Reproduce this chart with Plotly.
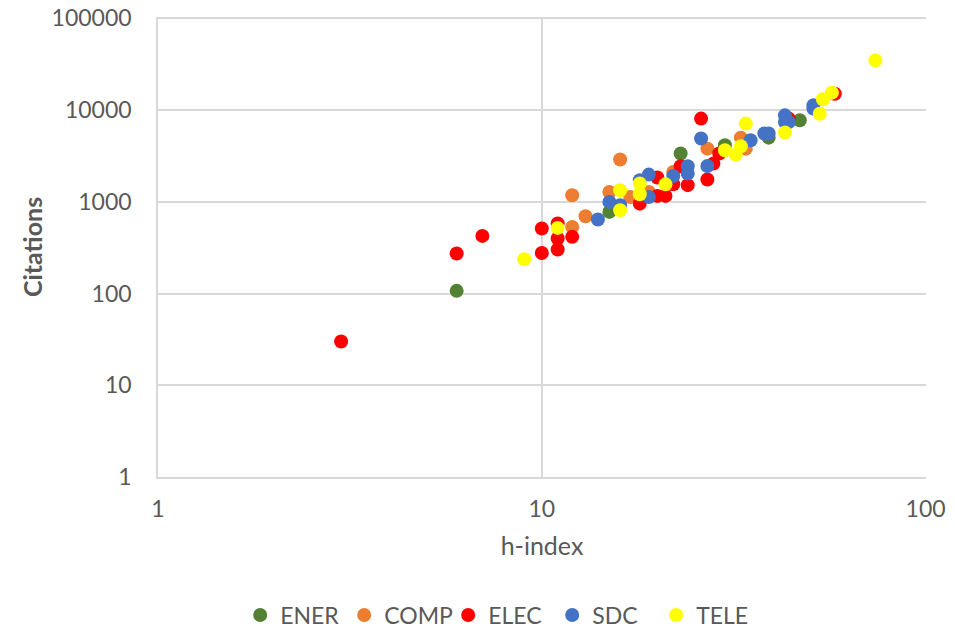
import plotly.graph_objects as go

# h-index, citations per field
ener_h = [6, 15, 23, 30, 39, 47]
ener_c = [107, 777, 3360, 4140, 5010, 7740]

comp_h = [12, 12, 13, 15, 16, 17, 19, 22, 27, 33, 34]
comp_c = [1180, 533, 697, 1280, 2890, 1130, 1280, 2120, 3800, 5010, 3800]

elec_h = [3, 6, 7, 10, 10, 11, 11, 11, 12, 18, 20, 20, 21, 22, 23, 24, 26, 27, 28, 29, 44, 58]
elec_c = [30, 273, 425, 277, 512, 302, 398, 580, 415, 955, 1840, 1160, 1160, 1555, 2440, 1520, 8080, 1750, 2610, 3360, 8080, 15100]

sdc_h = [14, 15, 16, 18, 19, 19, 22, 24, 24, 26, 27, 35, 38, 39, 43, 43, 44, 51, 51]
sdc_c = [642, 998, 918, 1720, 1130, 1980, 1910, 2440, 2030, 4900, 2460, 4690, 5550, 5550, 8770, 7410, 7400, 11270, 10370]

tele_h = [9, 11, 16, 16, 18, 18, 21, 30, 32, 33, 34, 43, 53, 54, 57, 74]
tele_c = [237, 520, 809, 1337, 1210, 1585, 1550, 3650, 3270, 4030, 7130, 5690, 9140, 13120, 15500, 34800]

x_ticks = [1, 10, 100]
y_ticks = [1, 10, 100, 1000, 10000, 100000]

series = [
    ("ENER", ener_h, ener_c, "#548235"),
    ("COMP", comp_h, comp_c, "#ED7D31"),
    ("ELEC", elec_h, elec_c, "#FF0000"),
    ("SDC", sdc_h, sdc_c, "#4472C4"),
    ("TELE", tele_h, tele_c, "#FFFF00"),
]

fig = go.Figure()
for name, xs, ys, col in series:
    fig.add_trace(go.Scatter(
        x=xs, y=ys, mode="markers", name=name,
        marker=dict(size=14, color=col, line=dict(width=0)),
    ))

font_family = "Lato, 'Open Sans', sans-serif"
grid = "#d9d9d9"
txt = "#595959"

fig.update_layout(
    width=955, height=632,
    paper_bgcolor="white", plot_bgcolor="white",
    margin=dict(l=158, r=29, t=17, b=155, autoexpand=False),
    font=dict(family=font_family, color=txt, size=23),
    showlegend=True,
    legend=dict(orientation="h", x=0.107, xanchor="left", y=-0.30, yanchor="middle",
                font=dict(size=23, color=txt),
                entrywidth=59, entrywidthmode="pixels",
                itemsizing="trace", bgcolor="rgba(0,0,0,0)"),
)
fig.update_xaxes(
    type="log", range=[0, 2.001], automargin=False,
    tickmode="array", tickvals=x_ticks, ticktext=[str(v) for v in x_ticks],
    showgrid=True, gridcolor=grid, gridwidth=1.5,
    showline=True, linecolor=grid, linewidth=1.5,
    zeroline=False, ticks="", ticklabelstandoff=11, ticklabeloverflow="allow",
    title=dict(text="h-index", font=dict(size=25, color=txt), standoff=16),
    tickfont=dict(size=23, color=txt),
)
fig.update_yaxes(
    type="log", range=[0, 5.015], automargin=False,
    tickmode="array", tickvals=y_ticks, ticktext=[str(v) for v in y_ticks],
    showgrid=True, gridcolor=grid, gridwidth=1.5,
    showline=True, linecolor=grid, linewidth=1.5,
    zeroline=False, ticks="", ticklabelstandoff=20, ticklabeloverflow="allow",
    title=dict(text="<b>Citations</b>", font=dict(size=25, color=txt), standoff=2),
    tickfont=dict(size=23, color=txt),
)

fig.write_html("out.html", config={"displayModeBar": False},
               post_script="document.body.style.margin='0px';")
